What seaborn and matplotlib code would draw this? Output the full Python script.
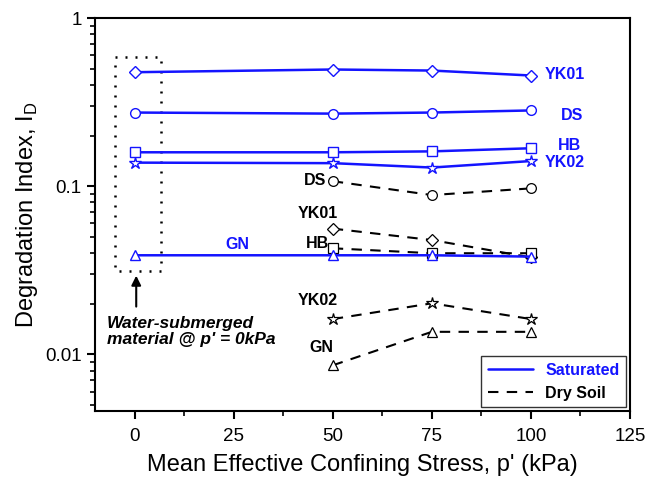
import matplotlib
matplotlib.use("Agg")
import matplotlib.pyplot as plt
from matplotlib.lines import Line2D
import seaborn as sns
import pandas as pd
import numpy as np

# pressure levels (kPa)
p_sat = [0, 50, 75, 100]
p_dry = [50, 75, 100]

materials = ['YK01', 'DS', 'HB', 'YK02', 'GN']
markers = {'YK01': 'D', 'DS': 'o', 'HB': 's', 'YK02': '*', 'GN': '^'}
msizes = {'YK01': 6.5, 'DS': 7, 'HB': 6.5, 'YK02': 9, 'GN': 7}

# saturated series
sat_yk01 = [0.476, 0.494, 0.487, 0.455]
sat_ds = [0.274, 0.270, 0.274, 0.282]
sat_hb = [0.159, 0.159, 0.161, 0.168]
sat_yk02 = [0.138, 0.137, 0.129, 0.141]
sat_gn = [0.0388, 0.0388, 0.0388, 0.0381]

# dry soil series
dry_ds = [0.107, 0.0885, 0.097]
dry_yk01 = [0.0559, 0.0478, 0.0377]
dry_hb = [0.0427, 0.0399, 0.0399]
dry_yk02 = [0.0162, 0.0201, 0.0162]
dry_gn = [0.0086, 0.0136, 0.0136]

sat_vals = {'YK01': sat_yk01, 'DS': sat_ds, 'HB': sat_hb, 'YK02': sat_yk02, 'GN': sat_gn}
dry_vals = {'YK01': dry_yk01, 'DS': dry_ds, 'HB': dry_hb, 'YK02': dry_yk02, 'GN': dry_gn}

BLUE = '#1414ff'

sns.set_style("ticks")
plt.rcParams['font.family'] = ['Liberation Sans', 'DejaVu Sans']
plt.rcParams['mathtext.fontset'] = 'custom'
plt.rcParams['mathtext.rm'] = 'Liberation Sans'
plt.rcParams['text.color'] = 'black'
plt.rcParams['axes.labelcolor'] = 'black'
plt.rcParams['axes.edgecolor'] = 'black'
plt.rcParams['xtick.color'] = 'black'
plt.rcParams['ytick.color'] = 'black'

fig = plt.figure(figsize=(6.58, 4.79), dpi=100)
ax = fig.add_axes([0.1444, 0.142, 0.8130, 0.8204])

for m in materials:
    d = pd.DataFrame({'p': p_sat, 'ID': sat_vals[m]})
    sns.lineplot(data=d, x='p', y='ID', ax=ax, color=BLUE, lw=1.8,
                 marker=markers[m], markersize=msizes[m], markerfacecolor='white',
                 markeredgecolor=BLUE, markeredgewidth=1.0, zorder=3)
for m in materials:
    d = pd.DataFrame({'p': p_dry, 'ID': dry_vals[m]})
    sns.lineplot(data=d, x='p', y='ID', ax=ax, color='black', lw=1.5,
                 marker=markers[m], markersize=msizes[m],
                 markerfacecolor='white', markeredgecolor='black',
                 markeredgewidth=0.9, zorder=2)
for line in ax.lines[len(materials):]:
    line.set_dashes((5, 4))

ax.set_yscale('log')
ax.set_xlim(-10, 125)
ax.set_ylim(0.0046, 1)
ax.set_xticks([0, 25, 50, 75, 100, 125])
ax.set_xticks(np.arange(-12.5, 125, 12.5)[1:], minor=True)
ax.set_yticks([0.01, 0.1, 1])
ax.set_yticklabels(['0.01', '0.1', '1'])
ax.tick_params(axis='both', which='major', direction='out', length=6, width=1.5,
               labelsize=13.5, top=False, right=False)
ax.tick_params(axis='both', which='minor', direction='out', length=3.5, width=1.2,
               top=False, right=False)
ax.tick_params(axis='x', which='major', pad=6)
for s in ax.spines.values():
    s.set_linewidth(1.5)

ax.set_xlabel("Mean Effective Confining Stress, p' (kPa)", fontsize=17, labelpad=7)
ax.set_ylabel("Degradation Index, I$_\\mathregular{D}$", fontsize=17, labelpad=4)

# series labels
sat_lab = {'YK01': (103.5, 0.461), 'DS': (107.6, 0.263), 'HB': (106.8, 0.174),
           'YK02': (103.5, 0.138)}
for m, (x, y) in sat_lab.items():
    ax.text(x, y, m, color=BLUE, fontsize=11.5, fontweight='bold', va='center', ha='left')
ax.text(25.8, 0.0451, 'GN', color=BLUE, fontsize=11.5, fontweight='bold', va='center', ha='center')

ax.text(48.3, 0.108, 'DS', color='black', fontsize=11.5, fontweight='bold', va='center', ha='right')
dry_lab = {'YK01': (46.2, 0.0688), 'HB': (46.2, 0.0457),
           'YK02': (46.2, 0.0208), 'GN': (47.2, 0.0110)}
for m, (x, y) in dry_lab.items():
    ax.text(x, y, m, color='black', fontsize=11.5, fontweight='bold', va='center', ha='center')

# dotted box around water-submerged points
bx = [-4.9, 6.6, 6.6, -4.9, -4.9]
by = [0.59, 0.59, 0.0313, 0.0313, 0.59]
ax.plot(bx, by, color='black', ls=(0, (0.8, 3.2)), lw=1.8)

ax.annotate('', xy=(0.4, 0.0305), xytext=(0.4, 0.0185),
            arrowprops=dict(arrowstyle='-|>', color='black', lw=1.5, mutation_scale=14))
ax.text(-7.0, 0.0170, "Water-submerged\nmaterial @ p' = 0kPa", fontsize=12.5,
        fontweight='bold', fontstyle='italic', va='top', ha='left', linespacing=1.15)

# legend
handles = [Line2D([], [], color=BLUE, lw=1.8),
           Line2D([], [], color='black', lw=1.5, dashes=(5, 4))]
leg = ax.legend(handles, ['Saturated', 'Dry Soil'], loc='lower right',
                frameon=True, fancybox=False, edgecolor='black', handlelength=2.8,
                borderaxespad=0.25, prop={'weight': 'bold', 'size': 11.5})
leg.get_frame().set_linewidth(1.0)
leg.get_texts()[0].set_color(BLUE)

fig.savefig('out.png', dpi=100)
